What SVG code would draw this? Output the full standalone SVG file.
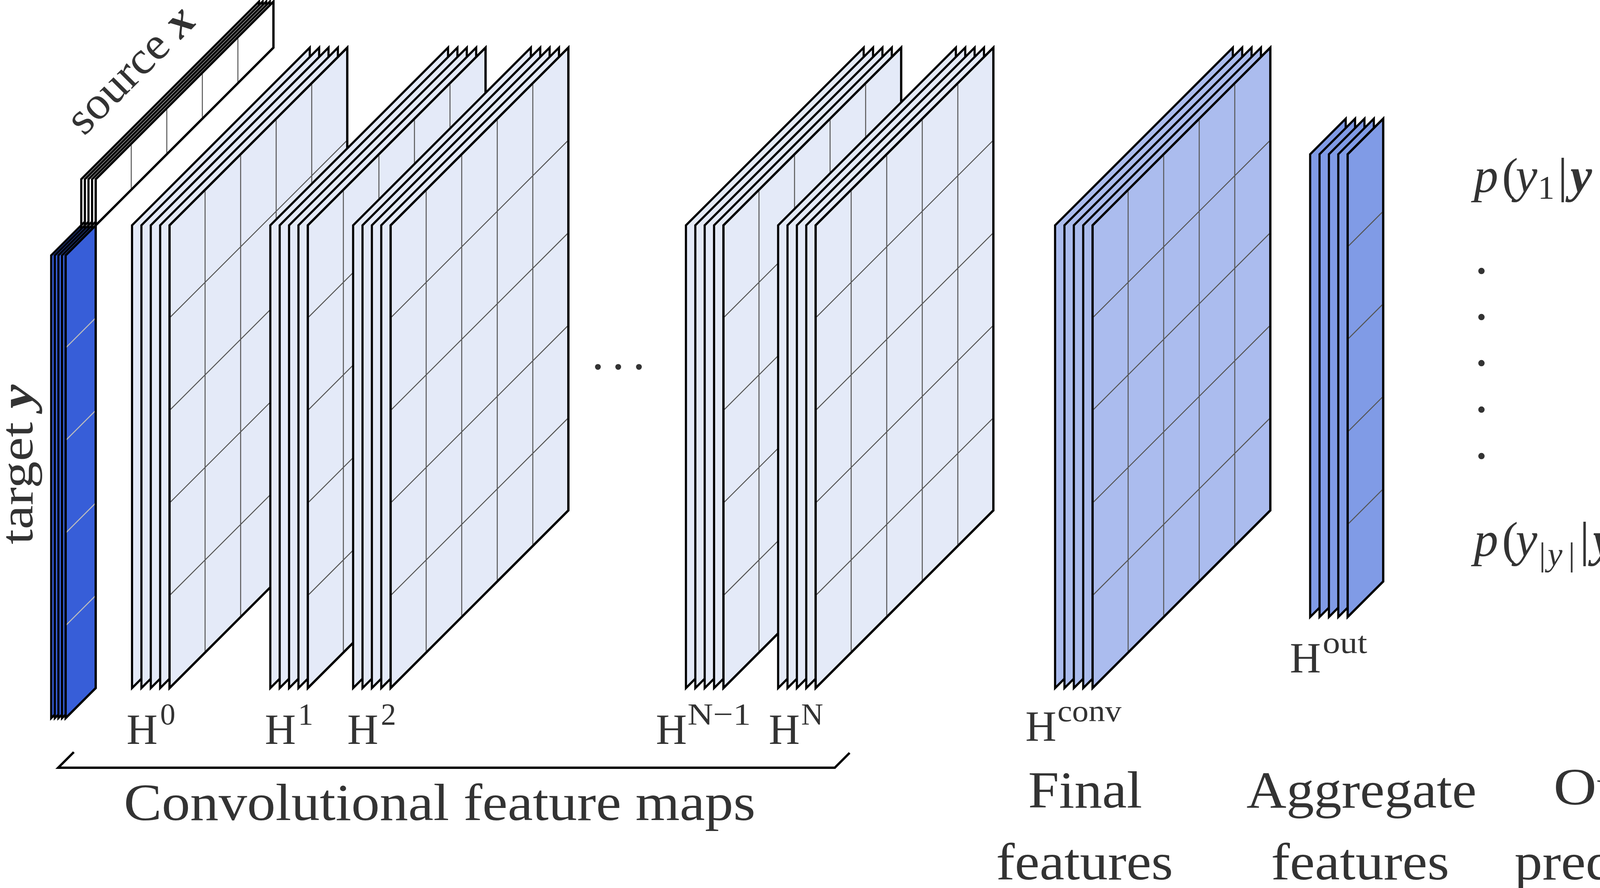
<svg xmlns="http://www.w3.org/2000/svg" width="4522" height="2274" viewBox="0 0 4522 2274">
<style>
.fm{fill:#e4eaf8;stroke:#000;stroke-width:5.5;stroke-linejoin:miter}
.cv{fill:#abbcee;stroke:#000;stroke-width:5.5;stroke-linejoin:miter}
.ot{fill:#809be6;stroke:#000;stroke-width:5.5;stroke-linejoin:miter}
.tg{fill:#375ed8;stroke:#000;stroke-width:5.5;stroke-linejoin:miter}
.src{fill:#fff;stroke:#000;stroke-width:5.5;stroke-linejoin:miter}
.grid{fill:none;stroke:#555;stroke-width:2.5}
.sep{fill:none;stroke:#bdbdbd;stroke-width:2.5}
.edge{fill:none;stroke:#000;stroke-width:5.5;stroke-linejoin:miter}
text{font-family:"Liberation Serif","Times New Roman",serif;fill:#333}
.lbl{font-size:133px}
.hl{font-size:110px}
.sup{font-size:78px}
.math{font-size:125px}
.vd{font-size:100px;font-weight:bold}
.it{font-style:italic}
.bi{font-style:italic;font-weight:bold}
.sub{font-size:85px}
</style>
<defs>
<path id="sh" d="M0,0 L455,-455 L455,730 L0,1185 Z"/>
<path id="gr" d="M91,-91 V1094 M182,-182 V1003 M273,-273 V912 M364,-364 V821 M0,237 L455,-218 M0,474 L455,19 M0,711 L455,256 M0,948 L455,493"/>
<path id="tsh" d="M0,0 L77,-77 L77,1108 L0,1185 Z"/>
<path id="tsep" d="M0,237 L77,160 M0,474 L77,397 M0,711 L77,634 M0,948 L77,871"/>
<path id="ssh" d="M0,0 L455,-455 L455,-573 L0,-118 Z"/>
<path id="sgr" d="M91,-91 V-209 M182,-182 V-300 M273,-273 V-391 M364,-364 V-482"/>
<path id="osh" d="M0,0 L91,-91 L91,1094 L0,1185 Z"/>
<path id="ogr" d="M0,237 L91,146 M0,474 L91,383 M0,711 L91,620 M0,948 L91,857"/>
</defs>
<rect width="4522" height="2274" fill="#fff"/>

<g id="target">
<use href="#tsh" class="tg" x="131" y="654"/>
<use href="#tsh" class="tg" x="140.25" y="654"/>
<use href="#tsh" class="tg" x="149.5" y="654"/>
<use href="#tsh" class="tg" x="158.75" y="654"/>
<use href="#tsh" class="tg" x="168" y="654"/>
<use href="#tsep" class="sep" x="168" y="654"/>
<use href="#tsh" class="edge" x="168" y="654"/>
<text class="lbl" style="font-size:118px" transform="translate(83,1394) rotate(-90)" textLength="409" lengthAdjust="spacingAndGlyphs">target <tspan class="bi">y</tspan></text>
</g>

<g id="source">
<use href="#ssh" class="src" x="208" y="577"/>
<use href="#ssh" class="src" x="217.25" y="577"/>
<use href="#ssh" class="src" x="226.5" y="577"/>
<use href="#ssh" class="src" x="235.75" y="577"/>
<use href="#ssh" class="src" x="245" y="577"/>
<use href="#sgr" class="grid" x="245" y="577"/>
<use href="#ssh" class="edge" x="245" y="577"/>
<text class="lbl" style="font-size:118px" transform="translate(215,350) rotate(-45)" textLength="412" lengthAdjust="spacingAndGlyphs">source <tspan class="bi">x</tspan></text>
</g>

<g id="H0">
<use href="#sh" class="fm" x="338" y="577"/>
<use href="#sh" class="fm" x="362" y="577"/>
<use href="#sh" class="fm" x="386" y="577"/>
<use href="#sh" class="fm" x="410" y="577"/>
<use href="#sh" class="fm" x="434" y="577"/>
<use href="#gr" class="grid" x="434" y="577"/>
<use href="#sh" class="edge" x="434" y="577"/>
<text class="hl" x="324" y="1905">H</text><text class="sup" x="410" y="1855">0</text>
</g>

<g id="H1">
<use href="#sh" class="fm" x="692" y="577"/>
<use href="#sh" class="fm" x="716" y="577"/>
<use href="#sh" class="fm" x="740" y="577"/>
<use href="#sh" class="fm" x="764" y="577"/>
<use href="#sh" class="fm" x="788" y="577"/>
<use href="#gr" class="grid" x="788" y="577"/>
<use href="#sh" class="edge" x="788" y="577"/>
<text class="hl" x="678" y="1905">H</text><text class="sup" x="763" y="1855">1</text>
</g>

<g id="H2">
<use href="#sh" class="fm" x="904" y="577"/>
<use href="#sh" class="fm" x="928" y="577"/>
<use href="#sh" class="fm" x="952" y="577"/>
<use href="#sh" class="fm" x="976" y="577"/>
<use href="#sh" class="fm" x="1000" y="577"/>
<use href="#gr" class="grid" x="1000" y="577"/>
<use href="#sh" class="edge" x="1000" y="577"/>
<text class="hl" x="889" y="1905">H</text><text class="sup" x="975" y="1855">2</text>
</g>

<g id="dots">
<text class="math" x="1515 1567 1620" y="945">...</text>
</g>

<g id="HNm1">
<use href="#sh" class="fm" x="1756" y="577"/>
<use href="#sh" class="fm" x="1780" y="577"/>
<use href="#sh" class="fm" x="1804" y="577"/>
<use href="#sh" class="fm" x="1828" y="577"/>
<use href="#sh" class="fm" x="1852" y="577"/>
<use href="#gr" class="grid" x="1852" y="577"/>
<use href="#sh" class="edge" x="1852" y="577"/>
<text class="hl" x="1679" y="1905">H</text><text class="sup" x="1760" y="1855" textLength="162" lengthAdjust="spacingAndGlyphs">N−1</text>
</g>

<g id="HN">
<use href="#sh" class="fm" x="1992" y="577"/>
<use href="#sh" class="fm" x="2016" y="577"/>
<use href="#sh" class="fm" x="2040" y="577"/>
<use href="#sh" class="fm" x="2064" y="577"/>
<use href="#sh" class="fm" x="2088" y="577"/>
<use href="#gr" class="grid" x="2088" y="577"/>
<use href="#sh" class="edge" x="2088" y="577"/>
<text class="hl" x="1968" y="1905">H</text><text class="sup" x="2051" y="1855">N</text>
</g>

<g id="bracket">
<path d="M189,1926 L149,1966 L2137,1966 L2175,1928" fill="none" stroke="#000" stroke-width="6" stroke-linejoin="miter"/>
<text class="lbl" x="317" y="2100" textLength="1617" lengthAdjust="spacingAndGlyphs">Convolutional feature maps</text>
</g>

<g id="Hconv">
<use href="#sh" class="cv" x="2701" y="577"/>
<use href="#sh" class="cv" x="2725" y="577"/>
<use href="#sh" class="cv" x="2749" y="577"/>
<use href="#sh" class="cv" x="2773" y="577"/>
<use href="#sh" class="cv" x="2797" y="577"/>
<use href="#gr" class="grid" x="2797" y="577"/>
<use href="#sh" class="edge" x="2797" y="577"/>
<text class="hl" x="2625" y="1897">H</text><text class="sup" x="2707" y="1847" textLength="164" lengthAdjust="spacingAndGlyphs">conv</text>
<text class="lbl" x="2632" y="2068" textLength="292" lengthAdjust="spacingAndGlyphs">Final</text>
<text class="lbl" x="2550" y="2252" textLength="453" lengthAdjust="spacingAndGlyphs">features</text>
</g>

<g id="Hout">
<use href="#osh" class="ot" x="3354" y="395"/>
<use href="#osh" class="ot" x="3378" y="395"/>
<use href="#osh" class="ot" x="3402" y="395"/>
<use href="#osh" class="ot" x="3426" y="395"/>
<use href="#osh" class="ot" x="3450" y="395"/>
<use href="#ogr" class="grid" x="3450" y="395"/>
<use href="#osh" class="edge" x="3450" y="395"/>
<text class="hl" x="3302" y="1722">H</text><text class="sup" x="3386" y="1672" textLength="114" lengthAdjust="spacingAndGlyphs">out</text>
<text class="lbl" x="3191" y="2068" textLength="589" lengthAdjust="spacingAndGlyphs">Aggregate</text>
<text class="lbl" x="3254" y="2252" textLength="456" lengthAdjust="spacingAndGlyphs">features</text>
</g>

<g id="outputs">
<text class="math"><tspan class="it" x="3773" y="491">p</tspan><tspan x="3845" y="491">(</tspan><tspan class="it" x="3880" y="491">y</tspan><tspan class="sub" x="3937" y="509">1</tspan><tspan x="3988" y="491">|</tspan><tspan class="bi" x="4020" y="491">y</tspan><tspan class="sub" x="4096" y="519">&lt;</tspan><tspan class="sub" x="4165" y="519">1</tspan><tspan x="4210" y="491">,</tspan><tspan class="bi" x="4255" y="491">x</tspan><tspan x="4338" y="491">)</tspan></text>
<text class="vd" x="3780" y="701">.</text>
<text class="vd" x="3780" y="819">.</text>
<text class="vd" x="3780" y="937">.</text>
<text class="vd" x="3780" y="1056">.</text>
<text class="vd" x="3780" y="1175">.</text>
<text class="math"><tspan class="it" x="3773" y="1423">p</tspan><tspan x="3845" y="1423">(</tspan><tspan class="it" x="3880" y="1423">y</tspan><tspan class="sub" x="3940" y="1448">|</tspan><tspan class="sub it" x="3962" y="1448">y</tspan><tspan class="sub" x="4015" y="1448">|</tspan><tspan x="4044" y="1423">|</tspan><tspan class="bi" x="4078" y="1423">y</tspan><tspan class="sub" x="4154" y="1448">&lt;</tspan><tspan class="sub" x="4215" y="1448">|</tspan><tspan class="sub it" x="4234" y="1448">y</tspan><tspan class="sub" x="4290" y="1448">|</tspan><tspan x="4320" y="1423">,</tspan><tspan class="bi" x="4368" y="1423">x</tspan><tspan x="4452" y="1423">)</tspan></text>
<text class="lbl" x="3977" y="2060" textLength="424" lengthAdjust="spacingAndGlyphs">Output</text>
<text class="lbl" x="3877" y="2252" textLength="635" lengthAdjust="spacingAndGlyphs">predictions</text>
</g>
</svg>
